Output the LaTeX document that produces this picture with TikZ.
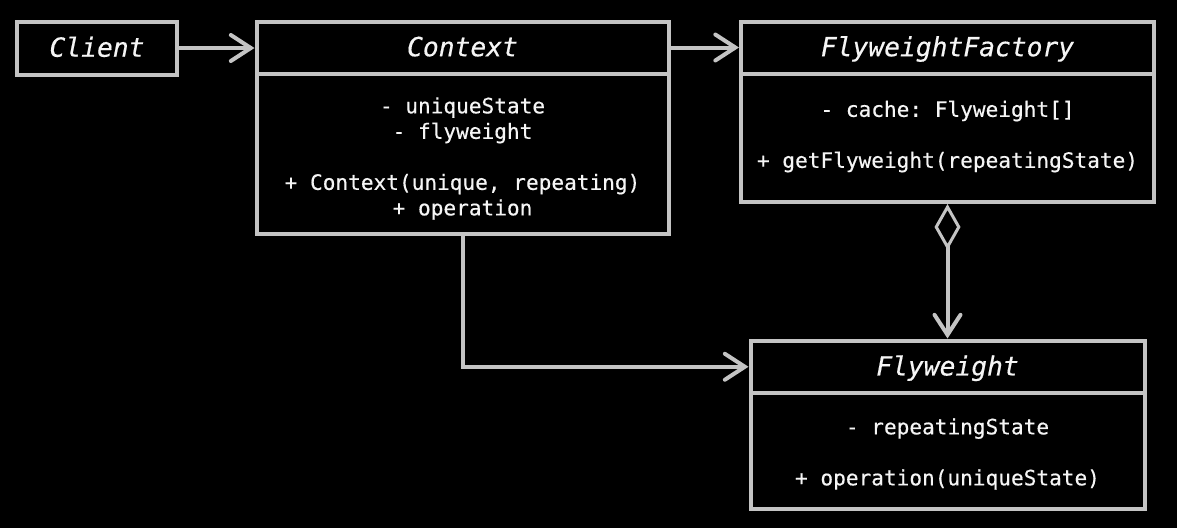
\documentclass[tikz,border=0pt]{standalone}
\usepackage{fontspec}
\newfontfamily\bodymono{DejaVu Sans Mono}[FakeBold=0.4]
\usetikzlibrary{arrows.meta}
\frenchspacing
\definecolor{linegray}{RGB}{196,196,196}
\definecolor{txt}{RGB}{245,245,245}
\tikzset{
  box/.style={draw=linegray, line width=4pt, rectangle, inner sep=0pt},
  ttl/.style={text=txt, font=\bodymono\itshape\fontsize{26.3}{30}\selectfont, text height=21pt, text depth=3.6pt},
  bodytxt/.style={text=txt, font=\bodymono\frenchspacing\fontsize{21.1}{25.5}\selectfont, align=center, inner sep=0pt},
  conn/.style={draw=linegray, line width=4pt, -{Straight Barb[length=20pt, width=26pt, line cap=round]}},
  agg/.style={draw=linegray, line width=4pt, {Diamond[open, length=46pt, width=26pt, line width=3pt]}-{Straight Barb[length=20pt, width=26pt, line cap=round]}}
}
\begin{document}
\begin{tikzpicture}[x=1pt, y=-1pt]
\fill[black] (0,0) rectangle (1177,528);
\useasboundingbox (0,0) rectangle (1177,528);
% Client
\node[box, ttl, minimum width=160pt, minimum height=53pt] (client) at (97,48) {Client};
% Context
\node[box, ttl, minimum width=412pt, minimum height=52pt] (ctxhead) at (462.5,47.5) {Context};
\node[box, minimum width=412pt, minimum height=160.5pt] (ctxbody) at (462.5,153.75) {};
\node[bodytxt] (ctxtext) at (462.5,158.5) {- uniqueState\\- flyweight\\[25.5pt]+ Context(unique, repeating)\\+ operation};
% FlyweightFactory
\node[box, ttl, minimum width=413pt, minimum height=52pt] (fhead) at (947.5,47.5) {FlyweightFactory};
\node[box, minimum width=413pt, minimum height=128.5pt] (fbody) at (947.5,137.75) {};
\node[bodytxt] (ftext) at (947.5,136.5) {- cache: Flyweight[]\\[25.5pt]+ getFlyweight(repeatingState)};
% Flyweight
\node[box, ttl, minimum width=394pt, minimum height=52.5pt] (fwhead) at (947.5,366.75) {Flyweight};
\node[box, minimum width=394pt, minimum height=116pt] (fwbody) at (947.5,451) {};
\node[bodytxt] (fwtext) at (947.5,454) {- repeatingState\\[25.5pt]+ operation(uniqueState)};
% connectors
\draw[conn] (client.east) -- (client.east -| ctxhead.west);
\draw[conn] (ctxhead.east) -- (fhead.west);
\draw[conn] (ctxbody.south) |- (fwhead.west);
\draw[agg] (fbody.south) -- (fwhead.north);
\end{tikzpicture}
\end{document}
